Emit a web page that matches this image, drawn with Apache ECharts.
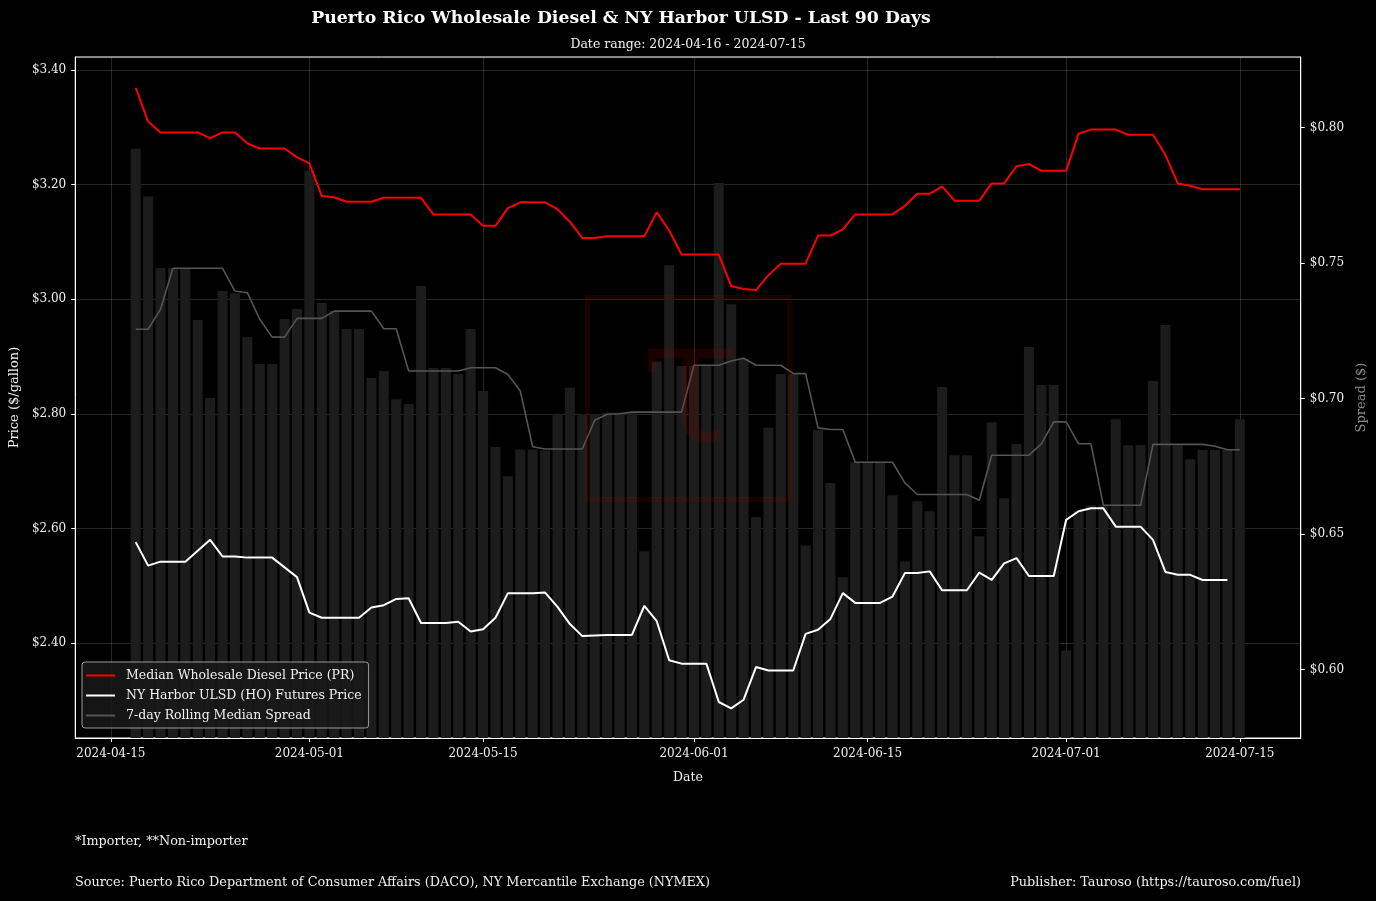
<!DOCTYPE html>
<html>
<head>
<meta charset="utf-8">
<script src="https://cdn.jsdelivr.net/npm/echarts@6/dist/echarts.min.js"></script>
<style>
html,body{margin:0;padding:0;background:#000;}
#chart{width:1376px;height:901px;}
</style>
</head>
<body>
<div id="chart"></div>
<script>
const dates = [
'2024-04-17','2024-04-18','2024-04-19','2024-04-20','2024-04-21','2024-04-22','2024-04-23','2024-04-24','2024-04-25','2024-04-26',
'2024-04-27','2024-04-28','2024-04-29','2024-04-30','2024-05-01','2024-05-02','2024-05-03','2024-05-04','2024-05-05','2024-05-06',
'2024-05-07','2024-05-08','2024-05-09','2024-05-10','2024-05-11','2024-05-12','2024-05-13','2024-05-14','2024-05-15','2024-05-16',
'2024-05-17','2024-05-18','2024-05-19','2024-05-20','2024-05-21','2024-05-22','2024-05-23','2024-05-24','2024-05-25','2024-05-26',
'2024-05-27','2024-05-28','2024-05-29','2024-05-30','2024-05-31','2024-06-01','2024-06-02','2024-06-03','2024-06-04','2024-06-05',
'2024-06-06','2024-06-07','2024-06-08','2024-06-09','2024-06-10','2024-06-11','2024-06-12','2024-06-13','2024-06-14','2024-06-15',
'2024-06-16','2024-06-17','2024-06-18','2024-06-19','2024-06-20','2024-06-21','2024-06-22','2024-06-23','2024-06-24','2024-06-25',
'2024-06-26','2024-06-27','2024-06-28','2024-06-29','2024-06-30','2024-07-01','2024-07-02','2024-07-03','2024-07-04','2024-07-05',
'2024-07-06','2024-07-07','2024-07-08','2024-07-09','2024-07-10','2024-07-11','2024-07-12','2024-07-13','2024-07-14','2024-07-15'
];

const prPrice = [
3.369,3.310,3.291,3.291,3.291,3.291,3.281,3.291,3.291,3.272,
3.263,3.263,3.263,3.248,3.237,3.180,3.178,3.170,3.170,3.170,
3.177,3.177,3.177,3.177,3.148,3.148,3.148,3.148,3.128,3.128,
3.159,3.169,3.169,3.169,3.157,3.135,3.107,3.107,3.110,3.110,
3.110,3.110,3.152,3.120,3.078,3.078,3.078,3.078,3.023,3.018,
3.016,3.042,3.062,3.062,3.062,3.111,3.111,3.122,3.148,3.148,
3.148,3.148,3.163,3.184,3.184,3.197,3.172,3.172,3.172,3.202,
3.202,3.232,3.236,3.224,3.224,3.224,3.289,3.296,3.296,3.296,
3.287,3.287,3.287,3.252,3.202,3.198,3.192,3.192,3.192,3.192
];

const hoPrice = [
2.576,2.535,2.542,2.542,2.542,2.561,2.580,2.551,2.551,2.549,
2.549,2.549,2.532,2.515,2.453,2.444,2.444,2.444,2.444,2.462,
2.466,2.477,2.478,2.435,2.435,2.435,2.437,2.420,2.424,2.444,
2.487,2.487,2.487,2.488,2.463,2.433,2.412,2.413,2.414,2.414,
2.414,2.465,2.438,2.370,2.364,2.364,2.364,2.297,2.286,2.301,
2.358,2.352,2.352,2.352,2.416,2.423,2.442,2.487,2.470,2.470,
2.470,2.481,2.522,2.522,2.525,2.492,2.492,2.492,2.523,2.510,
2.539,2.548,2.517,2.517,2.517,2.615,2.630,2.635,2.635,2.603,
2.603,2.603,2.580,2.524,2.519,2.519,2.510,2.510,2.510,null
];

const spread = [
0.7922,0.7746,0.7482,0.7482,0.7482,0.7290,0.7002,0.7397,0.7389,0.7227,
0.7128,0.7128,0.7294,0.7331,0.7841,0.7353,0.7323,0.7257,0.7257,0.7076,
0.7102,0.6998,0.6980,0.7416,0.7113,0.7113,0.7091,0.7257,0.7028,0.6821,
0.6713,0.6812,0.6812,0.6808,0.6944,0.7040,0.6944,0.6942,0.6948,0.6948,
0.6948,0.6436,0.7136,0.7492,0.7120,0.7120,0.7120,0.7796,0.7348,0.7145,
0.6562,0.6892,0.7090,0.7090,0.6458,0.6884,0.6688,0.6340,0.6765,0.6765,
0.6765,0.6643,0.6399,0.6621,0.6584,0.7043,0.6791,0.6791,0.6492,0.6913,
0.6632,0.6832,0.7190,0.7050,0.7050,0.6070,0.6585,0.6606,0.6606,0.6924,
0.6828,0.6828,0.7065,0.7272,0.6828,0.6776,0.6810,0.6810,0.6810,0.6924
];

const rollingSpread = [
0.7256,0.7256,0.7330,0.7481,0.7481,0.7481,0.7481,0.7481,0.7397,0.7391,
0.7293,0.7227,0.7227,0.7296,0.7296,0.7296,0.7323,0.7323,0.7323,0.7323,
0.7258,0.7258,0.7102,0.7102,0.7102,0.7102,0.7102,0.7114,0.7114,0.7114,
0.7089,0.7028,0.6822,0.6814,0.6814,0.6814,0.6814,0.6920,0.6942,0.6944,
0.6950,0.6950,0.6950,0.6950,0.6950,0.7123,0.7123,0.7123,0.7139,0.7149,
0.7123,0.7123,0.7123,0.7092,0.7092,0.6892,0.6886,0.6886,0.6765,0.6765,
0.6765,0.6765,0.6689,0.6646,0.6646,0.6646,0.6646,0.6646,0.6625,0.6791,
0.6791,0.6791,0.6791,0.6833,0.6914,0.6914,0.6833,0.6833,0.6606,0.6606,
0.6606,0.6606,0.6831,0.6831,0.6831,0.6831,0.6831,0.6824,0.6811,0.6811
];

const xTickLabels = ['2024-04-15','2024-05-01','2024-05-15','2024-06-01','2024-06-15','2024-07-01','2024-07-15'];
const seriesNames = ['Median Wholesale Diesel Price (PR)','NY Harbor ULSD (HO) Futures Price','7-day Rolling Median Spread','Daily Spread'];
const titleText = 'Puerto Rico Wholesale Diesel & NY Harbor ULSD - Last 90 Days';
const subtitleText = 'Date range: 2024-04-16 - 2024-07-15';

function ts(s){ const p = s.split('-'); return Date.UTC(+p[0], +p[1]-1, +p[2]); }
function fmtDate(v){ const d = new Date(v); const m = d.getUTCMonth()+1, dd = d.getUTCDate(); return d.getUTCFullYear()+'-'+(m<10?'0':'')+m+'-'+(dd<10?'0':'')+dd; }

const DAY = 86400000;
const xTicks = xTickLabels.map(ts);
const xMin = ts('2024-04-15') - 2.873*DAY;
const xMax = ts('2024-07-15') + 4.91*DAY;
const FONT = '"DejaVu Serif", "Liberation Serif", serif';

const pair = (arr) => dates.map((d,i) => [ts(d), arr[i]]);

const chart = echarts.init(document.getElementById('chart'), null, {renderer:'canvas'});
chart.setOption({
  backgroundColor: '#000',
  animation: false,
  textStyle: { fontFamily: FONT },
  grid: { left: 75, right: 74, top: 57, bottom: 163, show: true, borderColor: '#ffffff', borderWidth: 1, backgroundColor: 'transparent' },
  legend: {
    data: seriesNames.slice(0,3),
    orient: 'vertical',
    left: 82, top: 662,
    padding: [7, 7, 6, 4],
    itemGap: 7,
    itemWidth: 29, itemHeight: 2,
    icon: 'rect',
    backgroundColor: 'rgba(25,25,25,0.85)',
    borderColor: '#9a9a9a', borderWidth: 1, borderRadius: 3,
    textStyle: { color: '#f0f0f0', fontSize: 12.5, fontFamily: FONT, padding: [0,0,0,6] }
  },
  xAxis: {
    type: 'value',
    min: xMin, max: xMax,
    name: 'Date', nameLocation: 'middle', nameGap: 33,
    nameTextStyle: { color: '#f0f0f0', fontSize: 12.5, fontFamily: FONT },
    axisLine: { show: true, onZero: false, lineStyle: { color: '#ffffff' } },
    axisTick: { show: true, length: 4, lineStyle: { color: '#ffffff' }, customValues: xTicks },
    axisLabel: { color: '#f0f0f0', fontSize: 12, fontFamily: FONT, margin: 10, customValues: xTicks, formatter: fmtDate },
    splitLine: { show: true, lineStyle: { color: 'rgba(255,255,255,0.15)', width: 1 } }
  },
  yAxis: [
    {
      type: 'value', position: 'left',
      min: 2.2342, max: 3.4227, minInterval: 0.2, maxInterval: 0.2, splitNumber: 6,
      name: 'Price ($/gallon)', nameLocation: 'middle', nameGap: 53,
      nameTextStyle: { color: '#f0f0f0', fontSize: 13, fontFamily: FONT },
      axisLine: { show: true, onZero: false, lineStyle: { color: '#ffffff' } },
      axisTick: { show: true, length: 4, lineStyle: { color: '#ffffff' } },
      axisLabel: { color: '#f0f0f0', fontSize: 12, fontFamily: FONT, margin: 9, showMinLabel: false, showMaxLabel: false,
        padding: [6, 0, 0, 0], formatter: v => '$' + v.toFixed(2) },
      splitLine: { show: true, lineStyle: { color: 'rgba(255,255,255,0.15)', width: 1 } }
    },
    {
      type: 'value', position: 'right',
      min: 0.5747, max: 0.8261, minInterval: 0.05, maxInterval: 0.05, splitNumber: 5,
      name: 'Spread ($)', nameLocation: 'middle', nameGap: 48, nameRotate: 90,
      nameTextStyle: { color: '#8a8a8a', fontSize: 13, fontFamily: FONT },
      axisLine: { show: true, onZero: false, lineStyle: { color: '#ffffff' } },
      axisTick: { show: true, length: 4, lineStyle: { color: '#ffffff' } },
      axisLabel: { color: '#f0f0f0', fontSize: 12, fontFamily: FONT, margin: 9, showMinLabel: false, showMaxLabel: false,
        padding: [6, 0, 0, 0], formatter: v => '$' + v.toFixed(2) },
      splitLine: { show: false }
    }
  ],
  series: [
    {
      name: seriesNames[3], type: 'bar', yAxisIndex: 1, data: pair(spread),
      barWidth: 10, clip: true, z: 1,
      itemStyle: { color: '#1c1c1c' }
    },
    {
      name: seriesNames[2], type: 'line', yAxisIndex: 1, data: pair(rollingSpread),
      showSymbol: false, symbol: 'none', z: 3,
      lineStyle: { color: '#555555', width: 1.6 }, itemStyle: { color: '#555555' }
    },
    {
      name: seriesNames[0], type: 'line', yAxisIndex: 0, data: pair(prPrice),
      showSymbol: false, symbol: 'none', z: 4,
      lineStyle: { color: '#ff0000', width: 2 }, itemStyle: { color: '#ff0000' }
    },
    {
      name: seriesNames[1], type: 'line', yAxisIndex: 0, data: pair(hoPrice),
      showSymbol: false, symbol: 'none', z: 4, connectNulls: false,
      lineStyle: { color: '#ffffff', width: 2 }, itemStyle: { color: '#ffffff' }
    }
  ],
  graphic: [
    { type: 'text', x: 621, y: 19, z: 10,
      style: { text: titleText, font: 'bold 17.3px ' + FONT, fill: '#ffffff', textAlign: 'center', textVerticalAlign: 'middle' } },
    { type: 'text', x: 688, y: 45, z: 10,
      style: { text: subtitleText, font: '12.5px ' + FONT, fill: '#f0f0f0', textAlign: 'center', textVerticalAlign: 'middle' } },
    { type: 'text', x: 75, y: 842, z: 10,
      style: { text: '*Importer, **Non-importer', font: '12.8px ' + FONT, fill: '#f0f0f0', textAlign: 'left', textVerticalAlign: 'middle' } },
    { type: 'text', x: 75, y: 883, z: 10,
      style: { text: 'Source: Puerto Rico Department of Consumer Affairs (DACO), NY Mercantile Exchange (NYMEX)', font: '12.8px ' + FONT, fill: '#f0f0f0', textAlign: 'left', textVerticalAlign: 'middle' } },
    { type: 'text', x: 1301, y: 883, z: 10,
      style: { text: 'Publisher: Tauroso (https://tauroso.com/fuel)', font: '12.8px ' + FONT, fill: '#f0f0f0', textAlign: 'right', textVerticalAlign: 'middle' } },
    { type: 'rect', z: 20, silent: true,
      shape: { x: 587.5, y: 297.5, width: 202, height: 202 },
      style: { fill: 'none', stroke: 'rgba(170,0,0,0.16)', lineWidth: 5 } },
    { type: 'text', x: 690, y: 395, z: 20, silent: true,
      style: { text: 'τ', font: '180px ' + FONT, fill: 'rgba(170,0,0,0.16)', textAlign: 'center', textVerticalAlign: 'middle' } }
  ]
});
</script>
</body>
</html>
